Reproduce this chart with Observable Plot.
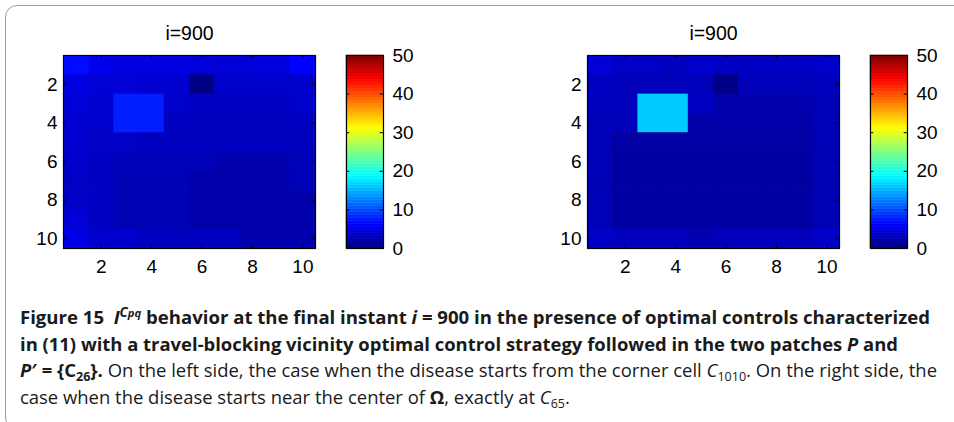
<!DOCTYPE html>
<html>
<head>
<meta charset="utf-8">
<script src="https://cdn.jsdelivr.net/npm/d3@7"></script>
<script src="https://cdn.jsdelivr.net/npm/@observablehq/plot@0.6"></script>
<style>
  html, body { margin: 0; padding: 0; background: #fff; }
  #page { position: relative; width: 954px; height: 422px; overflow: hidden; background: #fff; }
  #box { position: absolute; left: 5px; top: 5px; width: 1000px; height: 424px; border: 1.3px solid #9a9a9a; border-radius: 12px; box-sizing: border-box; }
  .panel { position: absolute; top: 0; }
  .panel svg { overflow: visible; }
  #caption { position: absolute; left: 20px; top: 304px; font-family: "Open Sans", "Noto Sans", sans-serif; font-size: 18.5px; line-height: 26.7px; color: #1a1a1a; }
  #caption .line { white-space: nowrap; transform-origin: 0 50%; width: max-content; }
  #caption sub { font-size: 0.68em; vertical-align: -0.3em; line-height: 0; }
  #caption sup { font-size: 0.72em; vertical-align: 0.55em; line-height: 0; }
  #caption sup .pq { font-size: 0.85em; }
</style>
</head>
<body>
<div id="page">
  <div id="box"></div>
  <div class="panel" id="heatLeft" style="left:20px"></div>
  <div class="panel" id="barLeft" style="left:330px"></div>
  <div class="panel" id="heatRight" style="left:544px"></div>
  <div class="panel" id="barRight" style="left:854px"></div>
  <div id="caption">
    <div class="line"><b>Figure 15</b>&nbsp; <b><i>I</i><sup><i>C</i><i class="pq">pq</i></sup> behavior at the final instant <i>i</i> = 900 in the presence of optimal controls characterized</b></div>
    <div class="line"><b>in (11) with a travel-blocking vicinity optimal control strategy followed in the two patches <i>P</i> and</b></div>
    <div class="line"><b><i>P</i>′ = {C<sub>26</sub>}.</b> On the left side, the case when the disease starts from the corner cell <i>C</i><sub>1010</sub>. On the right side, the</div>
    <div class="line">case when the disease starts near the center of <b>Ω</b>, exactly at <i>C</i><sub>65</sub>.</div>
  </div>
</div>
<script>
// Infected density I^{Cpq} on the 10x10 grid at i = 900 (rows top to bottom, columns left to right)
const gridCornerStart = [
  [6.8, 5.3, 4.8, 4.8, 4.8, 4.6, 4.3, 4.5, 4.6, 6.2],
  [4.8, 4.3, 4.3, 4.0, 4.0, 0.2, 3.8, 3.8, 3.8, 3.8],
  [4.3, 4.0, 7.7, 7.7, 3.8, 3.3, 3.3, 3.3, 3.3, 3.8],
  [4.0, 3.8, 7.7, 7.7, 3.1, 3.1, 3.1, 3.1, 3.1, 3.1],
  [4.0, 3.5, 3.5, 3.1, 3.1, 3.1, 3.1, 3.1, 3.1, 3.1],
  [3.8, 3.3, 2.8, 2.8, 2.8, 2.8, 2.3, 2.3, 2.3, 2.8],
  [3.5, 3.3, 2.6, 2.6, 2.6, 2.1, 2.1, 2.1, 2.1, 2.8],
  [3.5, 3.3, 2.6, 2.6, 2.6, 2.1, 2.1, 2.1, 2.1, 2.1],
  [4.3, 3.3, 2.6, 2.6, 2.6, 2.1, 2.1, 2.1, 2.1, 2.1],
  [5.0, 3.8, 3.8, 3.1, 3.1, 3.1, 3.1, 2.3, 2.3, 2.3]
];
const gridCenterStart = [
  [4.3, 3.5, 3.5, 3.0, 3.8, 3.3, 3.3, 3.3, 3.3, 3.8],
  [3.3, 2.9, 2.9, 2.9, 2.9, 0.2, 2.9, 2.9, 2.9, 3.1],
  [3.0, 3.0, 16.2, 16.2, 3.3, 2.2, 2.2, 2.2, 2.2, 2.8],
  [2.9, 2.9, 16.2, 16.2, 2.1, 2.1, 2.1, 2.1, 2.1, 2.8],
  [2.8, 1.8, 1.8, 1.8, 1.8, 1.8, 1.8, 1.8, 1.8, 2.7],
  [2.7, 1.7, 1.7, 1.7, 1.7, 1.7, 1.7, 1.7, 1.7, 2.6],
  [2.7, 1.7, 1.7, 1.7, 1.7, 1.7, 1.7, 1.7, 1.7, 2.6],
  [2.7, 1.7, 1.7, 1.7, 1.7, 1.7, 1.7, 1.7, 1.7, 2.6],
  [2.7, 1.7, 1.7, 1.7, 1.7, 1.7, 1.7, 1.7, 1.7, 2.6],
  [3.5, 3.0, 3.0, 3.0, 2.4, 2.9, 2.9, 2.9, 2.9, 3.5]
];
const panelTitles = ["i=900", "i=900"];
const gridTicks = [2, 4, 6, 8, 10];
const colorTicks = [0, 10, 20, 30, 40, 50];
const colorDomain = [0, 50];

// MATLAB-style "jet" colormap as a Plot interpolator
function jet(t) {
  const c = v => Math.max(0, Math.min(1, v));
  const r = c(Math.min(4 * t - 1.5, -4 * t + 4.5));
  const g = c(Math.min(4 * t - 0.5, -4 * t + 3.5));
  const b = c(Math.min(4 * t + 0.5, -4 * t + 2.5));
  return `rgb(${Math.round(r * 255)},${Math.round(g * 255)},${Math.round(b * 255)})`;
}
const colorScale = {type: "linear", domain: colorDomain, interpolate: jet};
const axisFont = {fontFamily: "'Liberation Sans', Arial, Helvetica, sans-serif", fontSize: "19px", color: "#000", background: "transparent", overflow: "visible"};

function heatmap(grid, title) {
  const cells = grid.flatMap((row, i) => row.map((v, j) => ({row: i + 1, col: j + 1, v})));
  return Plot.plot({
    width: 300, height: 282,
    marginLeft: 43, marginRight: 5, marginTop: 55, marginBottom: 34,
    style: axisFont,
    x: {domain: [0.5, 10.5], ticks: gridTicks, tickSize: 0, tickPadding: 11, label: null},
    y: {domain: [0.5, 10.5], reverse: true, ticks: gridTicks, tickSize: 0, tickPadding: 6, label: null},
    color: colorScale,
    marks: [
      // cells slightly overlap their right/bottom neighbours so no seams show
      Plot.rect(cells, {x1: d => d.col - 0.5, x2: d => d.col + 0.5, y1: d => d.row - 0.5, y2: d => d.row + 0.5, fill: "v", insetRight: -0.7, insetBottom: -0.7}),
      // inward ticks on all four sides
      Plot.ruleX(gridTicks, {x: d => d, y1: 10.5, y2: 10.34, stroke: "#000"}),
      Plot.ruleX(gridTicks, {x: d => d, y1: 0.5, y2: 0.66, stroke: "#000"}),
      Plot.ruleY(gridTicks, {y: d => d, x1: 0.5, x2: 0.62, stroke: "#000"}),
      Plot.ruleY(gridTicks, {y: d => d, x1: 10.5, x2: 10.38, stroke: "#000"}),
      Plot.frame({stroke: "#000", strokeWidth: 1.2}),
      Plot.text([title], {frameAnchor: "top", lineAnchor: "middle", dy: -22, text: d => d, fontSize: 19.5, fill: "#000"})
    ]
  });
}

function colorbar() {
  const n = 64, step = (colorDomain[1] - colorDomain[0]) / n;
  const bands = d3.range(n).map(i => ({lo: colorDomain[0] + i * step, hi: colorDomain[0] + (i + 1) * step}));
  return Plot.plot({
    width: 95, height: 282,
    marginLeft: 16, marginRight: 42, marginTop: 55, marginBottom: 34,
    style: axisFont,
    x: {domain: [0, 1], axis: null},
    y: {domain: colorDomain, ticks: colorTicks, tickSize: 0, tickPadding: 9, axis: "right", label: null},
    color: colorScale,
    marks: [
      Plot.rect(bands, {x1: 0, x2: 1, y1: "lo", y2: "hi", fill: d => (d.lo + d.hi) / 2, stroke: d => (d.lo + d.hi) / 2, strokeWidth: 0.5}),
      Plot.ruleY(colorTicks, {y: d => d, x1: 0, x2: 0.09, stroke: "#000"}),
      Plot.ruleY(colorTicks, {y: d => d, x1: 1, x2: 0.91, stroke: "#000"}),
      Plot.frame({stroke: "#000", strokeWidth: 1.2})
    ]
  });
}

document.getElementById("heatLeft").append(heatmap(gridCornerStart, panelTitles[0]));
document.getElementById("heatRight").append(heatmap(gridCenterStart, panelTitles[1]));
document.getElementById("barLeft").append(colorbar());
document.getElementById("barRight").append(colorbar());

// Fit the caption lines to the narrow set width of the figure legend
const lineWidths = [910, 878, 917];
const lines = document.querySelectorAll("#caption .line");
let lastScale = 1;
lines.forEach((el, i) => {
  const w = el.getBoundingClientRect().width;
  const s = i < lineWidths.length ? lineWidths[i] / w : lastScale;
  lastScale = s;
  el.style.transform = `scaleX(${s})`;
});
</script>
</body>
</html>
